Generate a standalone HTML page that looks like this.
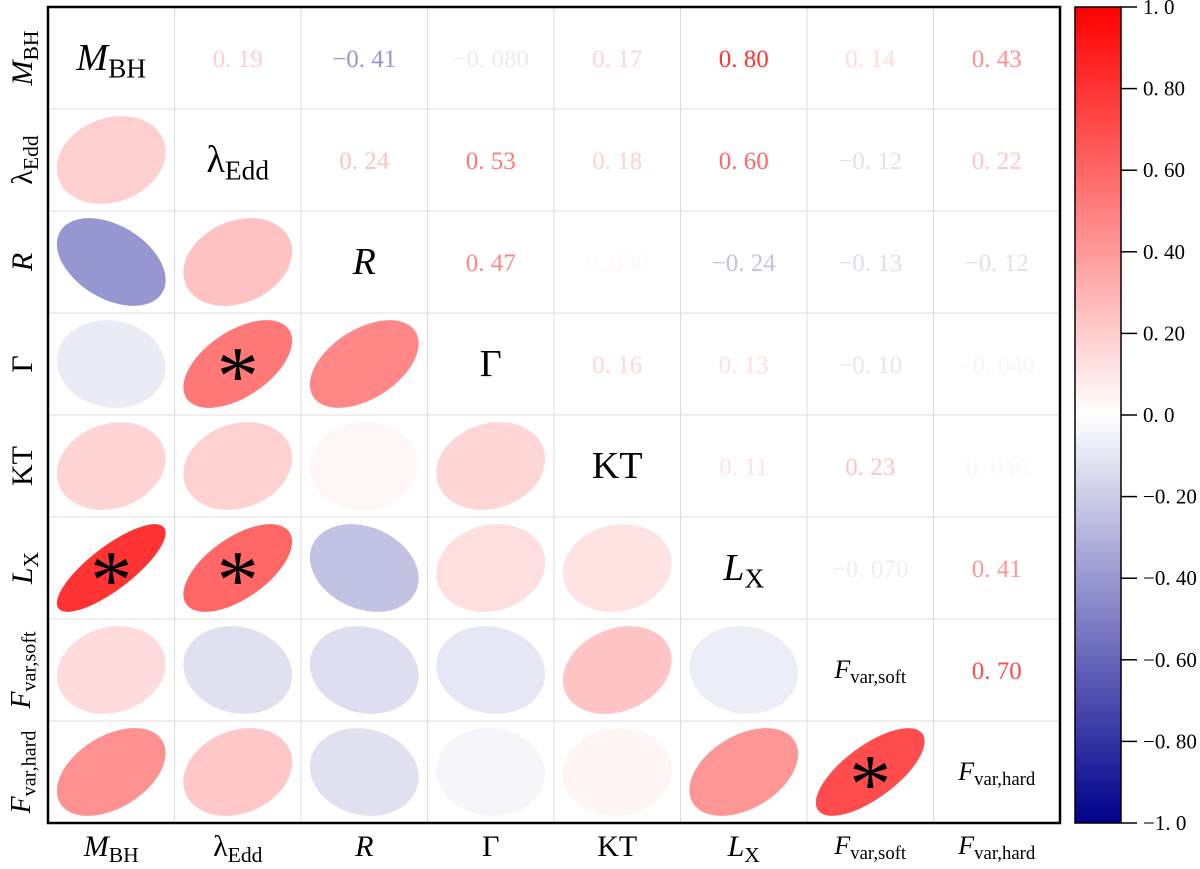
<!DOCTYPE html>
<html><head><meta charset="utf-8"><style>
body{margin:0;background:#fff;width:1200px;height:864px;overflow:hidden}
svg text{font-family:"Liberation Serif","DejaVu Serif",serif}
</style></head><body>
<svg width="1200" height="864" viewBox="0 0 1200 864">
<defs>
<linearGradient id="cbg" x1="0" y1="1" x2="0" y2="0">
<stop offset="0" stop-color="#00008c"/><stop offset="0.5" stop-color="#ffffff"/><stop offset="1" stop-color="#ff0000"/>
</linearGradient>
</defs>
<g id="grid"></g>
<g id="cells"></g>
<rect x="48" y="7" width="1012" height="816" fill="none" stroke="#000" stroke-width="2.5"/>
<g id="ylabels"></g>
<g id="xlabels"></g>
<rect x="1075" y="7" width="46" height="816" fill="url(#cbg)" stroke="#000" stroke-width="1.5"/>
<g id="cbticks"></g>
</svg>
<script>
const labels=['M|BH','λ|Edd','R|','Γ|','KT|','L|X','F|var,soft','F|var,hard'];
const italicMain=[true,false,true,false,false,true,true,true];
const corr=[
[1,0.19,-0.41,-0.08,0.17,0.80,0.14,0.43],
[0.19,1,0.24,0.53,0.18,0.60,-0.12,0.22],
[-0.41,0.24,1,0.47,0.03,-0.24,-0.13,-0.12],
[-0.08,0.53,0.47,1,0.16,0.13,-0.10,-0.04],
[0.17,0.18,0.03,0.16,1,0.11,0.23,0.04],
[0.80,0.60,-0.24,0.13,0.11,1,-0.07,0.41],
[0.14,-0.12,-0.13,-0.10,0.23,-0.07,1,0.70],
[0.43,0.22,-0.12,-0.04,0.04,0.41,0.70,1]];
const cbTicks=[1.0,0.8,0.6,0.4,0.2,0.0,-0.2,-0.4,-0.6,-0.8,-1.0];
const cbTickLabels=['1.0','0.80','0.60','0.40','0.20','0.0','−0.20','−0.40','−0.60','−0.80','−1.0'];
const valueLabels=['0.19','−0.41','−0.080','0.17','0.80','0.14','0.43','0.24','0.53','0.18','0.60','−0.12','0.22','0.47','0.030','−0.24','−0.13','−0.12','0.16','0.13','−0.10','−0.040','0.11','0.23','0.040','−0.070','0.41','0.70'];

const X0=48,Y0=7,CW=1012/8,CH=816/8,N=8;
const cx=i=>X0+CW*(i+0.5), cy=j=>Y0+CH*(j+0.5);
const cbY=v=>7+(1-v)/2*816;
function color(r){
  if(r>=0){const g=Math.round(255*(1-r));return `rgb(255,${g},${g})`;}
  const a=-r;return `rgb(${Math.round(255*(1-a))},${Math.round(255*(1-a))},${Math.round(255-a*115)})`;
}
const NS='http://www.w3.org/2000/svg';
function mk(tag,attrs,parent){const e=document.createElementNS(NS,tag);for(const k in attrs)e.setAttribute(k,attrs[k]);parent.appendChild(e);return e;}
function label(parent,i,x,y,size,rot){
  const [m,s]=labels[i].split('|');
  const t=mk('text',{x:x,y:y,'text-anchor':'middle','font-size':size},parent);
  if(rot)t.setAttribute('transform',`rotate(-90 ${x} ${y})`);
  const a=mk('tspan',{},t);a.textContent=m;if(italicMain[i])a.setAttribute('font-style','italic');
  if(s){const b=mk('tspan',{'font-size':size*0.72,dy:size*0.2},t);b.textContent=s;}
  return t;
}
const grid=document.getElementById('grid');
for(let k=1;k<N;k++){
  const v=mk('line',{x1:X0+CW*k,x2:X0+CW*k,y1:Y0,y2:Y0+816,stroke:'#ddd','stroke-width':1},grid);
  
  const h=mk('line',{y1:Y0+CH*k,y2:Y0+CH*k,x1:X0,x2:X0+1012,stroke:'#ddd','stroke-width':1},grid);
  
}
const cells=document.getElementById('cells');
let vi=0;
for(let j=0;j<N;j++)for(let i=0;i<N;i++){
  const r=corr[j][i];
  if(i===j){
    const big=j<6;
    const t=label(cells,i,cx(i),cy(j)+(big?12:8),big?38:26,false);
    
  }else if(i>j){
    const t=mk('text',{x:cx(i),y:cy(j)+9,'text-anchor':'middle','font-size':25,fill:color(r)},cells);
    t.textContent=valueLabels[vi++].replace('.','. ');
    
  }else{
    const g=mk('g',{transform:`translate(${cx(i)},${cy(j)}) scale(${CW},${CH}) rotate(-45)`},cells);
    const e=mk('ellipse',{cx:0,cy:0,rx:0.43*Math.sqrt(1+r),ry:0.43*Math.sqrt(1-r),fill:color(r)},g);
    
    if(Math.abs(r)>0.5){
      const s=mk('text',{x:cx(i),y:cy(j)+40,'text-anchor':'middle','font-size':84,fill:'#000','font-family':'DejaVu Sans, sans-serif'},cells);
      s.textContent='*';
      
    }
  }
}
const yl=document.getElementById('ylabels'),xl=document.getElementById('xlabels');
for(let i=0;i<N;i++){
  const big=i<6;
  const a=label(yl,i,big?32:30,cy(i),big?30:28,true);
  
  const b=label(xl,i,cx(i),big?856:854,big?30:26,false);
  
}
const cb=document.getElementById('cbticks');
cbTicks.forEach((v,k)=>{
  const y=cbY(v);
  const l=mk('line',{x1:1121,x2:1137,y1:y,y2:y,stroke:'#000','stroke-width':1.5},cb);
  
  const t=mk('text',{x:1143,y:y+7,'font-size':21},cb);
  t.textContent=cbTickLabels[k].replace('.','. ');
  
});
</script>
</body></html>
